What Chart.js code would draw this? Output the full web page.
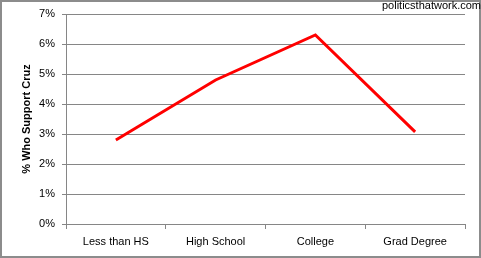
<!DOCTYPE html>
<html>
<head>
<meta charset="utf-8">
<script src="https://cdn.jsdelivr.net/npm/chart.js@4.4.1/dist/chart.umd.min.js"></script>
<style>
  html, body { margin: 0; padding: 0; background: #ffffff; }
  #wrap { width: 481px; height: 258px; position: relative; }
</style>
</head>
<body>
<div id="wrap"><canvas id="cruzChart" width="481" height="258"></canvas></div>
<script>
// Date grafic
const categories = ['Less than HS', 'High School', 'College', 'Grad Degree'];
const supportCruz = [2.8, 4.8, 6.3, 3.07];
const yTicks = [0, 1, 2, 3, 4, 5, 6, 7];
const watermark = 'politicsthatwork.com';

// Chenar gri + text sursa
const frameAndCredit = {
    id: 'frameAndCredit',
    afterDraw(chart) {
        const c = chart.ctx;
        c.save();
        c.strokeStyle = '#8c8c8c';
        c.lineWidth = 2;
        c.strokeRect(1, 1, chart.width - 2, chart.height - 2);
        c.fillStyle = '#000000';
        c.font = "11px 'Liberation Sans', Arial, sans-serif";
        c.textAlign = 'right';
        c.textBaseline = 'top';
        c.fillText(watermark, chart.width, 0);
        c.restore();
    }
};

function initializeCruzChart() {
    if (typeof Chart === 'undefined') {
        console.error('Chart.js nu este disponibil.');
        return;
    }
    const ctx = document.getElementById('cruzChart').getContext('2d');

    Chart.defaults.font.family = "'Liberation Sans', Arial, sans-serif";
    Chart.defaults.font.size = 11;
    Chart.defaults.color = '#000000';

    new Chart(ctx, {
        type: 'line',
        data: {
            labels: categories,
            datasets: [{
                label: '% Who Support Cruz',
                data: supportCruz,
                borderColor: '#ff0000',
                backgroundColor: '#ff0000',
                borderWidth: 3,
                pointRadius: 0,
                tension: 0,
                fill: false
            }]
        },
        options: {
            responsive: false,
            animation: false,
            layout: { padding: { left: 0, top: 14, right: 16, bottom: 0 } },
            plugins: {
                legend: { display: false },
                tooltip: { enabled: false }
            },
            scales: {
                x: {
                    type: 'category',
                    offset: true,
                    afterFit: function(scale) { scale.height = 34; },
                    grid: {
                        offset: true,
                        drawOnChartArea: false,
                        drawTicks: true,
                        tickLength: 5,
                        color: '#868686'
                    },
                    border: { display: true, color: '#868686', width: 1 },
                    ticks: { padding: 6, maxRotation: 0, color: '#000000' }
                },
                y: {
                    min: 0,
                    max: 7,
                    afterFit: function(scale) { scale.width = 66; },
                    afterBuildTicks: function(scale) {
                        scale.ticks = yTicks.map(v => ({ value: v }));
                    },
                    grid: {
                        color: '#868686',
                        tickLength: 4,
                        drawTicks: true
                    },
                    border: { display: true, color: '#868686', width: 1 },
                    ticks: {
                        padding: 7,
                        color: '#000000',
                        callback: function(value) { return value + '%'; }
                    },
                    title: {
                        display: true,
                        text: '% Who Support Cruz',
                        color: '#000000',
                        font: { weight: 'bold', size: 11 },
                        padding: { top: 20, bottom: 0 }
                    }
                }
            }
        },
        plugins: [frameAndCredit]
    });
}

initializeCruzChart();
</script>
</body>
</html>
